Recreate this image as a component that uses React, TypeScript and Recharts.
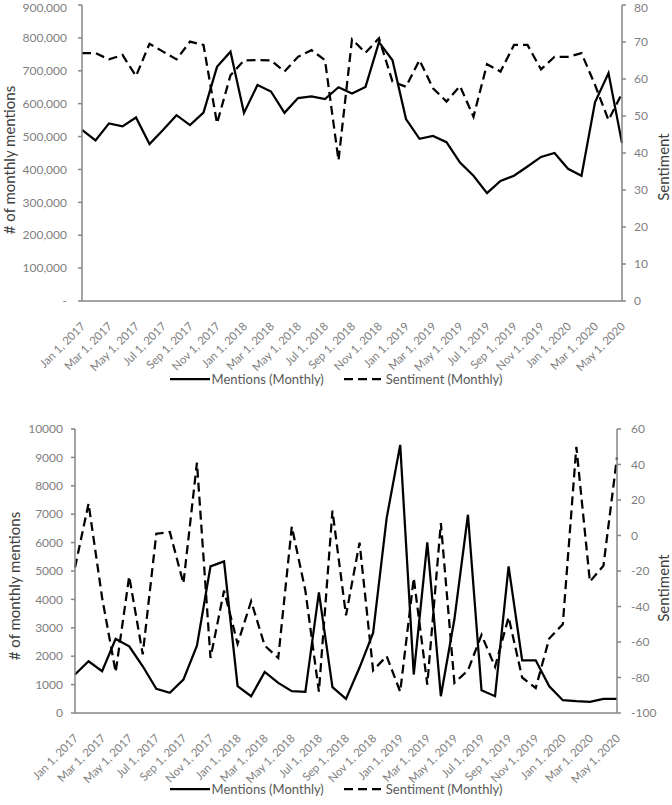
import { LineChart, Line, XAxis, YAxis, Legend } from "recharts";

const MONTH_NAMES = ["Jan", "Feb", "Mar", "Apr", "May", "Jun", "Jul", "Aug", "Sep", "Oct", "Nov", "Dec"];
const START_YEAR = 2017;
const MONTH_COUNT = 41;
const dates = Array.from({ length: MONTH_COUNT }, (_, i) => `${MONTH_NAMES[i % 12]} 1, ${START_YEAR + Math.floor(i / 12)}`);

// top panel
const topMentions = [
  520000, 488000, 540000, 531000, 558000, 477000, 520000, 565000, 535000, 573000,
  712000, 758000, 572000, 657000, 637000, 572000, 617000, 622000, 614000, 650000,
  631000, 651000, 787000, 732000, 553000, 493000, 502000, 483000, 421000, 381000,
  328000, 365000, 381000, 409000, 438000, 450000, 402000, 381000, 604000, 693000,
  480000,
];
const topSentiment = [
  67, 67, 65.3, 66.5, 60.8, 69.5, 67.4, 65.3, 70.1, 69.2,
  48, 61, 65, 65.1, 65, 62, 66, 67.8, 65.1, 38,
  70.7, 67.1, 71, 59.3, 57.9, 65.1, 57.5, 53.9, 58.1, 49.8,
  64, 62, 69.2, 69.2, 62.6, 66, 66, 67, 58.4, 48.9,
  56.1,
];
const topLeftTicks = [0, 100000, 200000, 300000, 400000, 500000, 600000, 700000, 800000, 900000];
const topRightTicks = [0, 10, 20, 30, 40, 50, 60, 70, 80];

// bottom panel
const bottomMentions = [
  1354, 1822, 1470, 2609, 2349, 1646, 851, 710, 1178, 2373,
  5162, 5338, 943, 591, 1449, 1062, 767, 745, 4248, 908,
  499, 1600, 2820, 6863, 9441, 1354, 6006, 591, 3300, 6980,
  802, 591, 5162, 1857, 1857, 943, 450, 415, 392, 499,
  499,
];
const bottomSentiment = [
  -18, 18, -35, -77, -23, -67, 1, 2, -27, 41,
  -69, -31, -61, -37, -62, -69, 5, -31, -88, 14,
  -45, -4, -76, -68, -88, -24, -84, 7, -83, -76,
  -56, -74, -46, -80, -86, -58, -50, 50, -26, -17,
  44,
];
const bottomLeftTicks = [0, 1000, 2000, 3000, 4000, 5000, 6000, 7000, 8000, 9000, 10000];
const bottomRightTicks = [-100, -80, -60, -40, -20, 0, 20, 40, 60];

const topData = dates.map((date, i) => ({ date, mentions: topMentions[i], sentiment: topSentiment[i] }));
const bottomData = dates.map((date, i) => ({ date, mentions: bottomMentions[i], sentiment: bottomSentiment[i] }));

const FONT = "Lato, 'Open Sans', sans-serif";
const TICK_COLOR = "#7f7f7f";
const AXIS_COLOR = "#868686";
const TITLE_COLOR = "#404040";
const DASH = "9 5";

const DateTick = ({ x, y, payload }: any) => (
  <g transform={`translate(${x + 4},${y + 18})`}>
    <text x={0} y={0} textAnchor="end" transform="rotate(-45)" fill={TICK_COLOR} fontSize={11.5} fontFamily={FONT}>
      {payload.value}
    </text>
  </g>
);

const axisTitle = (text: string, x: number, y: number) => () => (
  <text x={x} y={y} transform={`rotate(-90 ${x} ${y})`} textAnchor="middle" dominantBaseline="central" fill={TITLE_COLOR} fontSize={15} fontFamily={FONT}>
    {text}
  </text>
);

const LegendContent = ({ payload }: any) => (
  <div style={{ display: "flex", justifyContent: "center", alignItems: "center", fontFamily: FONT, fontSize: 13, color: "#595959" }}>
    {(payload || []).map((entry: any, i: number) => (
      <div key={i} style={{ display: "flex", alignItems: "center", marginLeft: i ? 20 : 0 }}>
        <svg width={40} height={10} style={{ marginRight: 2 }}>
          <line x1={0} y1={5} x2={40} y2={5} stroke="#000" strokeWidth={2.25} strokeDasharray={entry.payload?.strokeDasharray} />
        </svg>
        <span>{entry.value}</span>
      </div>
    ))}
  </div>
);

const fmtThousands = (v: number) => (v === 0 ? "-" : v.toLocaleString("en-US"));

export default function App() {
  return (
    <div style={{ position: "absolute", left: 0, top: 0, width: 672, height: 805, background: "#fff" }}>
      <LineChart width={672} height={400} data={topData} margin={{ top: 5, right: 0, bottom: 0, left: 0 }}>
        <XAxis dataKey="date" interval={1} tick={<DateTick />} tickLine={false} height={99} axisLine={{ stroke: AXIS_COLOR, strokeWidth: 1.5 }} />
        <YAxis
          yAxisId="left"
          width={82}
          domain={[0, 900000]}
          ticks={topLeftTicks}
          tickFormatter={fmtThousands}
          tickSize={4}
          tickMargin={11}
          tick={{ fill: TICK_COLOR, fontSize: 12, fontFamily: FONT }}
          axisLine={{ stroke: AXIS_COLOR, strokeWidth: 1.5 }}
          tickLine={{ stroke: AXIS_COLOR, strokeWidth: 1.5 }}
          label={{ content: axisTitle("# of monthly mentions", 9, 160) }}
        />
        <YAxis
          yAxisId="right"
          orientation="right"
          width={50}
          domain={[0, 80]}
          ticks={topRightTicks}
          tickSize={4}
          tickMargin={8}
          tick={{ fill: TICK_COLOR, fontSize: 12, fontFamily: FONT }}
          axisLine={{ stroke: AXIS_COLOR, strokeWidth: 1.5 }}
          tickLine={{ stroke: AXIS_COLOR, strokeWidth: 1.5 }}
          label={{ content: axisTitle("Sentiment", 663, 167) }}
        />
        <Legend verticalAlign="middle" align="center" content={<LegendContent />} wrapperStyle={{ top: 371, left: 0, width: 672 }} />
        <Line yAxisId="left" type="linear" dataKey="mentions" name="Mentions (Monthly)" stroke="#000" strokeWidth={2.25} dot={false} isAnimationActive={false} />
        <Line yAxisId="right" type="linear" dataKey="sentiment" name="Sentiment (Monthly)" stroke="#000" strokeWidth={2.25} strokeDasharray={DASH} dot={false} isAnimationActive={false} />
      </LineChart>
      <div style={{ position: "absolute", left: 0, top: 400 }}>
        <LineChart width={672} height={405} data={bottomData} margin={{ top: 29, right: 0, bottom: 0, left: 0 }}>
          <XAxis dataKey="date" interval={1} tick={<DateTick />} tickLine={false} height={92} axisLine={{ stroke: AXIS_COLOR, strokeWidth: 1.5 }} />
          <YAxis
            yAxisId="left"
            width={75}
            domain={[0, 10000]}
            ticks={bottomLeftTicks}
            tickSize={4}
            tickMargin={8}
            tick={{ fill: TICK_COLOR, fontSize: 12, fontFamily: FONT }}
            axisLine={{ stroke: AXIS_COLOR, strokeWidth: 1.5 }}
            tickLine={{ stroke: AXIS_COLOR, strokeWidth: 1.5 }}
            label={{ content: axisTitle("# of monthly mentions", 14, 186) }}
          />
          <YAxis
            yAxisId="right"
            orientation="right"
            width={55}
            domain={[-100, 60]}
            ticks={bottomRightTicks}
            tickSize={4}
            tickMargin={10}
            tick={{ fill: TICK_COLOR, fontSize: 12, fontFamily: FONT }}
            axisLine={{ stroke: AXIS_COLOR, strokeWidth: 1.5 }}
            tickLine={{ stroke: AXIS_COLOR, strokeWidth: 1.5 }}
            label={{ content: axisTitle("Sentiment", 663, 188) }}
          />
          <Legend verticalAlign="middle" align="center" content={<LegendContent />} wrapperStyle={{ top: 381, left: 0, width: 672 }} />
          <Line yAxisId="left" type="linear" dataKey="mentions" name="Mentions (Monthly)" stroke="#000" strokeWidth={2.25} dot={false} isAnimationActive={false} />
          <Line yAxisId="right" type="linear" dataKey="sentiment" name="Sentiment (Monthly)" stroke="#000" strokeWidth={2.25} strokeDasharray={DASH} dot={false} isAnimationActive={false} />
        </LineChart>
      </div>
    </div>
  );
}
